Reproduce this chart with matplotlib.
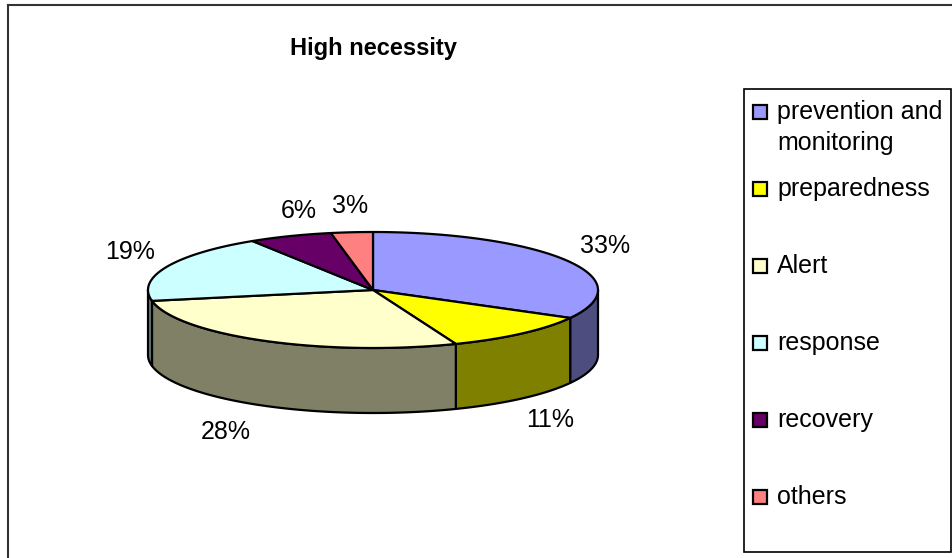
import numpy as np
import matplotlib
matplotlib.use("Agg")
import matplotlib.pyplot as plt
from matplotlib.patches import Polygon, Rectangle
from matplotlib.colors import to_rgb

# Donnees du camembert
titre = "High necessity"
categories = ["prevention and\nmonitoring", "preparedness", "Alert", "response", "recovery", "others"]
valeurs = [33, 11, 28, 19, 6, 3]
etiquettes = ["33%", "11%", "28%", "19%", "6%", "3%"]
couleurs = ["#9999FF", "#FFFF00", "#FFFFCC", "#CCFFFF", "#660066", "#FF8080"]

# petits decalages des etiquettes (en pixels)
decalage_etiq = [(1, 0), (-1, 0), (-18, 2), (4, -4), (25, 1), (2, 2)]

# geometrie du camembert 3D (pixels)
cx, cy = 373, 290
rx, ry = 225, 58
epaisseur = 65

police = "Liberation Sans"

fig = plt.figure(figsize=(9.53, 5.58), dpi=100)
ax = fig.add_axes([0, 0, 1, 1])
ax.set_xlim(0, 953)
ax.set_ylim(558, 0)
ax.axis("off")


def point(theta, dz=0):
    # angle en degres, sens horaire depuis midi
    t = np.radians(theta)
    return cx + rx * np.sin(t), cy - ry * np.cos(t) + dz


# angles de debut / fin de chaque part
total = float(sum(valeurs))
bornes = np.concatenate([[0], np.cumsum(valeurs)]) / total * 360

# faces laterales (seulement la moitie avant est visible)
for i in range(len(valeurs)):
    a0, a1 = bornes[i], bornes[i + 1]
    lo, hi = max(a0, 90), min(a1, 270)
    if lo >= hi:
        continue
    t = np.linspace(lo, hi, 80)
    xh, yh = point(t)
    xb, yb = point(t, epaisseur)
    pts = np.column_stack([np.concatenate([xh, xb[::-1]]), np.concatenate([yh, yb[::-1]])])
    cote = tuple(np.array(to_rgb(couleurs[i])) * 0.5)
    ax.add_patch(Polygon(pts, closed=True, fc=cote, ec="black", lw=1.6, joinstyle="round"))

# dessus du camembert
for i in range(len(valeurs)):
    a0, a1 = bornes[i], bornes[i + 1]
    t = np.linspace(a0, a1, 120)
    xa, ya = point(t)
    pts = np.column_stack([np.concatenate([[cx], xa]), np.concatenate([[cy], ya])])
    ax.add_patch(Polygon(pts, closed=True, fc=couleurs[i], ec="black", lw=1.6, joinstyle="round"))

# etiquettes en pourcentage
for i in range(len(valeurs)):
    milieu = np.radians((bornes[i] + bornes[i + 1]) / 2)
    x = cx + (rx + 44) * np.sin(milieu)
    y = cy - (ry + 28) * np.cos(milieu)
    if np.cos(milieu) < 0:
        y += epaisseur
    dx, dy = decalage_etiq[i]
    ax.text(x + dx, y + dy, etiquettes[i], ha="center", va="center",
            fontsize=18, family=police)

# titre
ax.text(373, 49, titre, ha="center", va="center", fontsize=17, fontweight="bold",
        family=police)

# legende
ax.add_patch(Rectangle((744, 89), 207, 463, fill=False, ec="black", lw=1.2))
y0, pas = 112, 77
for i, nom in enumerate(categories):
    y = y0 + i * pas
    ax.add_patch(Rectangle((753, y - 7), 14, 14, fc=couleurs[i], ec="black", lw=1.6))
    for k, ligne in enumerate(nom.split("\n")):
        ax.text(777, y + k * 31, ligne, ha="left", va="center", fontsize=18, family=police)

# cadre exterieur
ax.plot([8, 8], [558, 5], color="#333333", lw=1.5)
ax.plot([8, 953], [5, 5], color="#333333", lw=1.5)

fig.savefig("out.png", dpi=100)
